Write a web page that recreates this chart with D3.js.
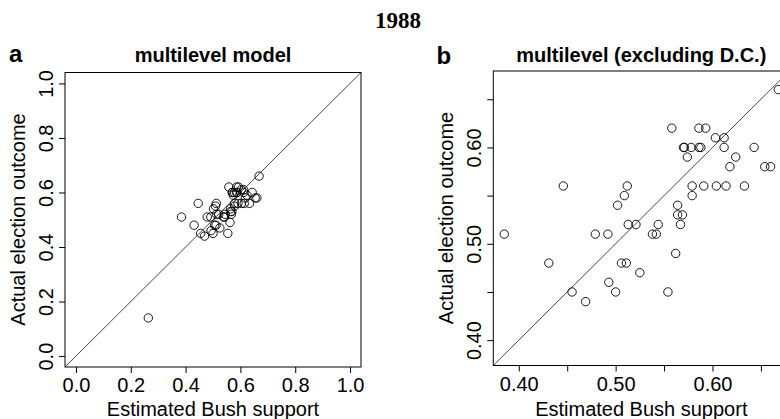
<!DOCTYPE html>
<html>
<head>
<meta charset="utf-8">
<script src="https://cdn.jsdelivr.net/npm/d3@7"></script>
<style>
	body { margin: 0; background: #fff; }
	text { font-family: "Liberation Sans", Arial, sans-serif; fill: #000; }
</style>
</head>
<body>
<div id="chart"></div>
<script>

// state estimates (x) and actual outcome (y), D.C. kept apart
var estimated = [0.385, 0.431, 0.446, 0.455, 0.469, 0.479, 0.492, 0.493, 0.500, 0.502,
	0.509, 0.512, 0.513, 0.521, 0.506, 0.511, 0.525, 0.538, 0.542, 0.544,
	0.554, 0.558, 0.562, 0.564, 0.564, 0.569, 0.567, 0.570, 0.571, 0.574,
	0.578, 0.579, 0.579, 0.586, 0.593, 0.586, 0.588, 0.591, 0.603, 0.612,
	0.612, 0.604, 0.614, 0.618, 0.624, 0.633, 0.643, 0.654, 0.660, 0.668];
var actual = [0.51, 0.48, 0.56, 0.45, 0.44, 0.51, 0.51, 0.46, 0.45, 0.54,
	0.55, 0.56, 0.52, 0.52, 0.48, 0.48, 0.47, 0.51, 0.51, 0.52,
	0.45, 0.62, 0.49, 0.54, 0.53, 0.53, 0.52, 0.60, 0.60, 0.59,
	0.60, 0.56, 0.55, 0.62, 0.62, 0.60, 0.60, 0.56, 0.61, 0.61,
	0.60, 0.56, 0.56, 0.58, 0.59, 0.56, 0.60, 0.58, 0.58, 0.66];
var dcEstimated = [0.264];
var dcActual = [0.14];

var ticksA = [0, 0.2, 0.4, 0.6, 0.8, 1.0];
var ticksB = [0.40, 0.45, 0.50, 0.55, 0.60, 0.65];
var labelsB = [0.40, 0.50, 0.60];

var W = 780, H = 419;

var svg = d3.select('#chart')
	.append('svg')
	.attr('width', W)
	.attr('height', H);

svg.append('text')
	.attr('x', 398)
	.attr('y', 28)
	.attr('text-anchor', 'middle')
	.style('font-family', '"Liberation Serif", "Times New Roman", serif')
	.style('font-weight', 'bold')
	.style('font-size', '23px')
	.text('1988');

// R pads the limits by 4% each side
function rlim(lo, hi){
	var d = (hi - lo) * 0.04;
	return [lo - d, hi + d];
}

function graph(opt){
	var x = d3.scaleLinear().domain(opt.lim).range([opt.left, opt.left + 296]);
	var y = d3.scaleLinear().domain(opt.lim).range([opt.top + 294.5, opt.top]);
	var bottom = opt.top + 294.5;

	var g = svg.append('g');

	svg.append('text')
		.attr('x', opt.letterX)
		.attr('y', opt.letterY)
		.style('font-weight', 'bold')
		.style('font-size', '24px')
		.text(opt.letter);

	g.append('text')
		.attr('x', opt.left + 148)
		.attr('y', 62)
		.attr('text-anchor', 'middle')
		.style('font-weight', 'bold')
		.style('font-size', '20px')
		.text(opt.title);

	// 45 degree line, corner to corner
	g.append('line')
		.attr('x1', x(opt.lim[0])).attr('y1', y(opt.lim[0]))
		.attr('x2', x(opt.lim[1])).attr('y2', y(opt.lim[1]))
		.attr('stroke', '#333')
		.attr('stroke-width', 0.9);

	g.selectAll('circle.pt')
		.data(d3.range(opt.xs.length))
		.enter()
		.append('circle')
		.attr('class', 'pt')
		.attr('cx', function(i){ return x(opt.xs[i]); })
		.attr('cy', function(i){ return y(opt.ys[i]); })
		.attr('r', 4.2)
		.attr('fill', 'none')
		.attr('stroke', '#000')
		.attr('stroke-width', 0.9);

	g.append('rect')
		.attr('x', opt.left)
		.attr('y', opt.top)
		.attr('width', 296)
		.attr('height', 294.5)
		.attr('fill', 'none')
		.attr('stroke', '#000')
		.attr('stroke-width', 1);

	var fmt = function(d){
		var shown = opt.labels.some(function(v){ return Math.abs(v - d) < 1e-9; });
		return shown ? d3.format(opt.fmt)(d) : '';
	};

	var xAxis = g.append('g')
		.attr('transform', 'translate(0,' + bottom + ')')
		.call(d3.axisBottom(x).tickValues(opt.ticks).tickFormat(fmt).tickSize(6).tickSizeOuter(0));
	xAxis.select('.domain').remove();
	xAxis.selectAll('text')
		.attr('y', 25)
		.attr('dy', 0)
		.style('font-size', '20px')
		.style('font-family', '"Liberation Sans", Arial, sans-serif');

	var yAxis = g.append('g')
		.attr('transform', 'translate(' + opt.left + ',0)')
		.call(d3.axisLeft(y).tickValues(opt.ticks).tickFormat(fmt).tickSize(6).tickSizeOuter(0));
	yAxis.select('.domain').remove();
	yAxis.selectAll('text')
		.attr('x', 0)
		.attr('y', -12)
		.attr('dy', 0)
		.attr('transform', 'rotate(-90)')
		.style('text-anchor', 'middle')
		.style('font-size', '20px')
		.style('font-family', '"Liberation Sans", Arial, sans-serif');

	g.append('text')
		.attr('x', opt.left + 148)
		.attr('y', 416)
		.attr('text-anchor', 'middle')
		.style('font-size', '20px')
		.text('Estimated Bush support');

	g.append('text')
		.attr('transform', 'translate(' + (opt.left - 40.5) + ',' + (opt.top + 147) + ') rotate(-90)')
		.attr('text-anchor', 'middle')
		.style('font-size', '20px')
		.text('Actual election outcome');
}

graph({
	letter: 'a', letterX: 9, letterY: 62,
	title: 'multilevel model',
	left: 65, top: 72.5,
	lim: rlim(0, 1),
	xs: estimated.concat(dcEstimated),
	ys: actual.concat(dcActual),
	ticks: ticksA, labels: ticksA, fmt: '.1f'
});

var ext = d3.extent(estimated.concat(actual));
graph({
	letter: 'b', letterX: 436.5, letterY: 64,
	title: 'multilevel (excluding D.C.)',
	left: 493.3, top: 71,
	lim: rlim(ext[0], ext[1]),
	xs: estimated,
	ys: actual,
	ticks: ticksB, labels: labelsB, fmt: '.2f'
});

</script>
</body>
</html>
